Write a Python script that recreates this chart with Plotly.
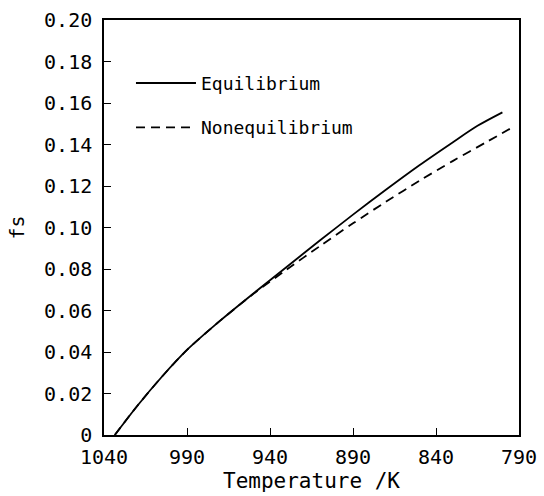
import plotly.graph_objects as go

# Data
T_eq = [1033.5, 1020, 1005, 990, 970, 950, 930, 910, 890, 870, 850, 830, 815, 800]
f_eq = [0.0, 0.0140, 0.0282, 0.0410, 0.0551, 0.0682, 0.0810, 0.0937, 0.1062, 0.1183, 0.1300, 0.1410, 0.1490, 0.1555]

T_neq = [1033.5, 1020, 1005, 990, 970, 950, 930, 910, 890, 870, 850, 830, 810, 793.6]
f_neq = [0.0, 0.0140, 0.0282, 0.0410, 0.0551, 0.0680, 0.0797, 0.0910, 0.1020, 0.1125, 0.1225, 0.1320, 0.1410, 0.1484]

x_ticks = [1040, 990, 940, 890, 840, 790]
y_ticks = [0, 0.02, 0.04, 0.06, 0.08, 0.10, 0.12, 0.14, 0.16, 0.18, 0.20]
y_ticktext = ["0", "0.02", "0.04", "0.06", "0.08", "0.10", "0.12", "0.14", "0.16", "0.18", "0.20"]

FONT = "DejaVu Sans Mono"

fig = go.Figure()
fig.add_trace(go.Scatter(x=T_eq, y=f_eq, mode="lines", name="Equilibrium",
                         legendgroup="a",
                         line=dict(color="black", width=1.8, shape="spline", smoothing=0.8)))
fig.add_trace(go.Scatter(x=T_neq, y=f_neq, mode="lines", name="Nonequilibrium",
                         legendgroup="b",
                         line=dict(color="black", width=1.8, dash="9px,6px", shape="spline", smoothing=0.8)))

fig.update_layout(
    width=544, height=496,
    margin=dict(l=104, r=25, t=20, b=61),
    paper_bgcolor="white", plot_bgcolor="white",
    font=dict(family=FONT, color="black", size=18),
    showlegend=True,
    legend=dict(x=0.065, y=0.892, xanchor="left", yanchor="top",
                bgcolor="rgba(0,0,0,0)", borderwidth=0,
                font=dict(family=FONT, size=18),
                itemwidth=60, tracegroupgap=18),
    xaxis=dict(range=[1040, 790], tickvals=x_ticks, ticks="inside", ticklen=7,
               tickwidth=1.2, tickcolor="black", automargin=False,
               showline=True, linecolor="black", linewidth=1.5, mirror=True,
               showgrid=False, zeroline=False,
               tickfont=dict(family=FONT, size=20), ticklabelstandoff=3,
               title=dict(text="Temperature /K", font=dict(family=FONT, size=21), standoff=6)),
    yaxis=dict(range=[0, 0.20], tickvals=y_ticks, ticktext=y_ticktext, ticks="inside",
               ticklen=7, tickwidth=1.2, tickcolor="black", automargin=False,
               showline=True, linecolor="black", linewidth=1.5, mirror=True,
               showgrid=False, zeroline=False,
               tickfont=dict(family=FONT, size=20), ticklabelstandoff=6,
               title=dict(text="fs", font=dict(family=FONT, size=20), standoff=14)),
)

fig.write_html("out.html")
